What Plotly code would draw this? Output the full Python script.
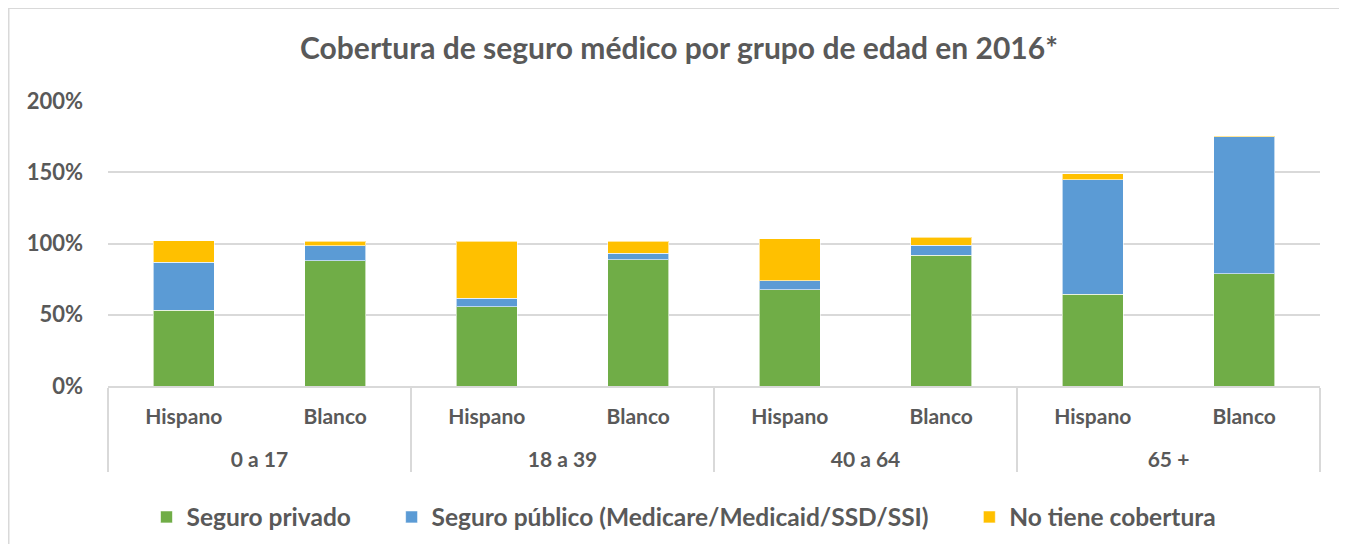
import plotly.graph_objects as go

groups = ["0 a 17", "0 a 17", "18 a 39", "18 a 39", "40 a 64", "40 a 64", "65 +", "65 +"]
races = ["Hispano", "Blanco"] * 4

privado = [0.53, 0.88, 0.557, 0.886, 0.676, 0.917, 0.644, 0.788]
publico = [0.34, 0.105, 0.06, 0.047, 0.061, 0.07, 0.802, 0.96]
sin_cob = [0.15, 0.03, 0.40, 0.082, 0.295, 0.056, 0.042, 0.006]

series = [
    ("Seguro privado", privado, "#70AD47"),
    ("Seguro público (Medicare/Medicaid/SSD/SSI)", publico, "#5B9BD5"),
    ("No tiene cobertura", sin_cob, "#FFC000"),
]

FONT = "Lato"
TXT = "#595959"

W, H = 1331, 536
L, R, T, B = 100, 19, 93, 158
PW, PH = W - L - R, H - T - B

race_labels = [r + "<br>&nbsp;" for r in races]
pad = "&nbsp;" * 6

fig = go.Figure()
for i, (name, vals, col) in enumerate(series):
    fig.add_trace(go.Bar(
        x=[groups, race_labels], y=vals,
        name=name + (pad if i < len(series) - 1 else ""),
        marker=dict(color=col, line=dict(color="rgba(255,255,255,0.6)", width=1)),
        width=0.4,
    ))

fig.update_layout(
    barmode="stack",
    width=W, height=H,
    margin=dict(l=L, r=R, t=T, b=B, autoexpand=False),
    paper_bgcolor="white", plot_bgcolor="white",
    title=dict(text="<b>Cobertura de seguro médico por grupo de edad en 2016*</b>",
               x=(679 - 8 - L) / PW, xref="paper", xanchor="center",
               y=1 - 40 / H, yanchor="middle",
               font=dict(family=FONT, size=30, color=TXT)),
    font=dict(family=FONT, color=TXT),
    legend=dict(orientation="h", x=(684 - 8 - L) / PW, xanchor="center",
                y=-(509 - 378) / PH, yanchor="middle",
                font=dict(family=FONT, size=24.5, color=TXT, weight="bold"), traceorder="normal"),
    yaxis=dict(range=[0, 2.0], dtick=0.5, tickformat=".0%",
               gridcolor="#D9D9D9", gridwidth=1.5, zeroline=False,
               tickfont=dict(family=FONT, size=22, color=TXT, weight="bold"),
               ticklabelstandoff=24, showline=False, automargin=False),
    xaxis=dict(type="multicategory", showline=True, linecolor="#D9D9D9", linewidth=1.5,
               showdividers=True, dividercolor="#D9D9D9", dividerwidth=1.5,
               tickfont=dict(family=FONT, size=21, color=TXT, weight="bold"),
               ticks="", ticklabelstandoff=11, automargin=False),
)

# chart-area frame (top and left edges)
fig.add_shape(type="line", xref="paper", yref="paper",
              x0=-L / PW, x1=1 + R / PW, y0=1 + T / PH, y1=1 + T / PH,
              line=dict(color="#D9D9D9", width=2))
fig.add_shape(type="line", xref="paper", yref="paper",
              x0=-L / PW, x1=-L / PW, y0=-B / PH, y1=1 + T / PH,
              line=dict(color="#D9D9D9", width=3))

fig.write_html("out.html")
